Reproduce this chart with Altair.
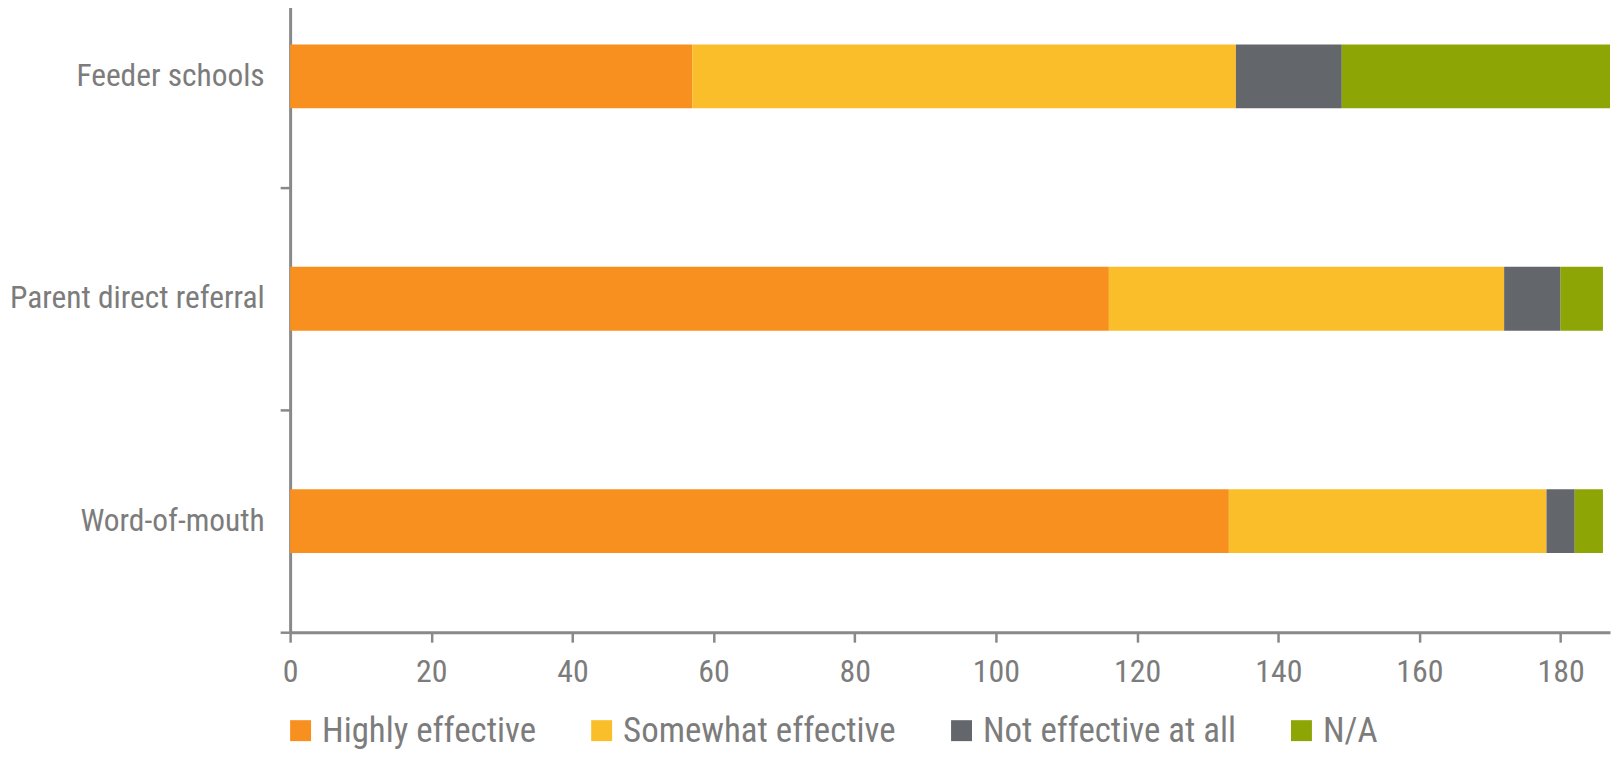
import altair as alt
import pandas as pd

categories = ["Feeder schools", "Parent direct referral", "Word-of-mouth"]
series = ["Highly effective", "Somewhat effective", "Not effective at all", "N/A"]
highly = [57, 116, 133]
somewhat = [77, 56, 45]
not_eff = [15, 8, 4]
na = [38, 6, 4]
colors = ["#F7901E", "#FBBE2B", "#63666A", "#8DA606"]
x_ticks = [0, 20, 40, 60, 80, 100, 120, 140, 160, 180]

rows = []
for si, (name, vals) in enumerate(zip(series, [highly, somewhat, not_eff, na])):
    for c, v in zip(categories, vals):
        rows.append({"source": c, "rating": name, "count": v, "order": si})
df = pd.DataFrame(rows)

FONT = "Roboto Condensed, Liberation Sans Narrow, Roboto"
TEXT = "#7c7c7c"
AXIS = "#898989"

chart = alt.Chart(df).mark_bar(size=64).encode(
    x=alt.X(
        "count:Q",
        stack="zero",
        scale=alt.Scale(domain=[0, 187], nice=False, zero=True),
        axis=alt.Axis(
            values=x_ticks, title=None, grid=False,
            domainColor=AXIS, domainWidth=3, tickColor=AXIS, tickWidth=2.5,
            tickSize=10, labelFont=FONT, labelFontSize=32, labelColor=TEXT,
            labelPadding=14, labelFlush=False,
        ),
    ),
    y=alt.Y(
        "source:N",
        sort=categories,
        scale=alt.Scale(range=[-44, 625], paddingInner=0, paddingOuter=0),
        axis=alt.Axis(
            title=None, tickBand="extent", grid=False,
            domainColor=AXIS, domainWidth=3, tickColor=AXIS, tickWidth=2.5,
            tickSize=10, labelFont=FONT, labelFontSize=31.5, labelColor=TEXT,
            labelPadding=16, labelLimit=500,
        ),
    ),
    color=alt.Color(
        "rating:N",
        sort=series,
        scale=alt.Scale(domain=series, range=colors),
        legend=alt.Legend(
            title=None, orient="none", direction="horizontal",
            legendX=-7, legendY=706,
            symbolType="square", symbolSize=441, symbolStrokeWidth=0,
            labelFont=FONT, labelFontSize=35, labelColor=TEXT,
            labelLimit=600, labelOffset=4, columnPadding=48,
        ),
    ),
    order=alt.Order("order:Q"),
).properties(
    width=1324,
    height=625,
    autosize=alt.AutoSizeParams(type="none"),
    padding={"top": 0, "left": 283, "right": 2, "bottom": 120},
).configure_view(strokeWidth=0)

chart.save("out.html", embed_options={"renderer": "svg", "actions": False})
